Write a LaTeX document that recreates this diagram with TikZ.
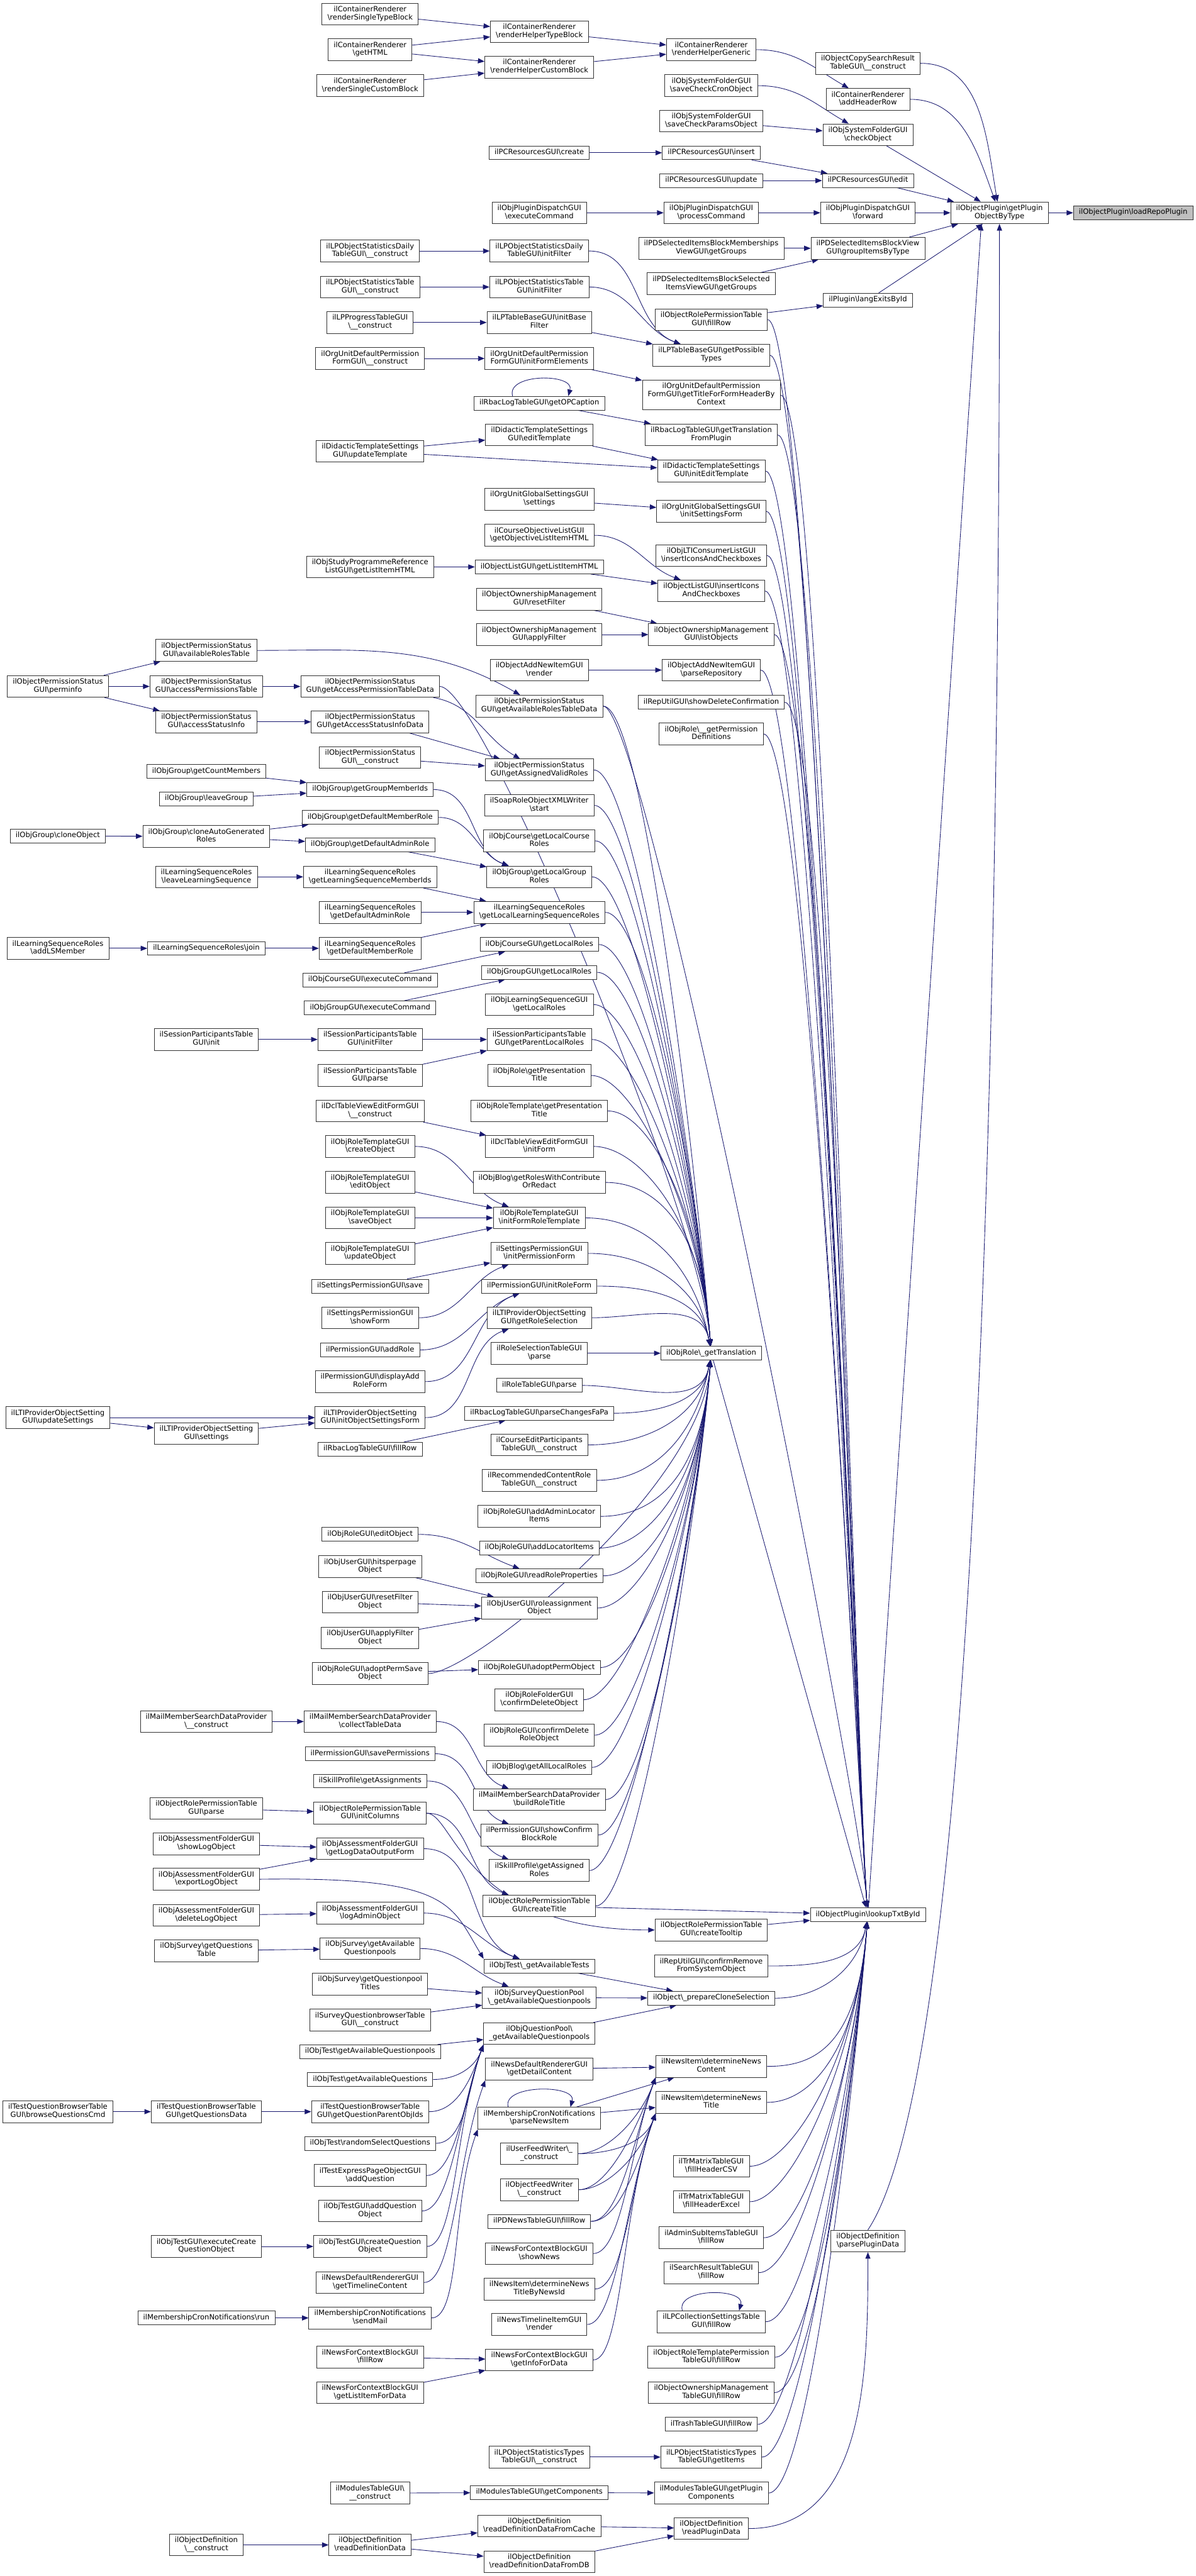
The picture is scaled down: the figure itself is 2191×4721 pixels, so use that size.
\documentclass[tikz,border=0pt]{standalone}
\usepackage{fontspec}
\setmainfont{DejaVu Sans}
\usetikzlibrary{arrows.meta}
\definecolor{edgeblue}{HTML}{191970}
\newcommand{\bsl}{\textbackslash}
\pgfdeclarelayer{background}
\pgfsetlayers{background,main}
\tikzstyle{func} = [
    rectangle,
    draw=black!80,
    fill=white,
    line width=0.75pt,
    font=\fontsize{10}{11}\selectfont,
    align=center,
    inner xsep=7.5pt,
    inner ysep=4pt,
    execute at begin node=\strut,
    execute at end node=\strut
]
\tikzstyle{focusfunc} = [func, fill=black!25]
\tikzstyle{arrow} = [draw=edgeblue, line width=0.75pt, -{Triangle[length=9pt,width=7pt]}]
\tikzstyle{fanabove} = [to path={.. controls +(80,0) and +(-20,-250) .. (\tikztotarget)}]
\tikzstyle{fanbelow} = [to path={.. controls +(80,0) and +(-20,250) .. (\tikztotarget)}]
\tikzstyle{nearabove} = [out=0, in=100]
\tikzstyle{nearbelow} = [out=0, in=-100]
\tikzstyle{belowleft} = [out=0, in=250, out max distance=40pt]

\begin{document}
\begin{tikzpicture}[x=0.75pt, y=-0.75pt]

\useasboundingbox (0,0) rectangle (2191,4721);

\node (perminfo) [func] at (106,1258) {ilObjectPermissionStatus\\GUI\bsl perminfo};
\node (cloneobj) [func] at (106,1532) {ilObjGroup\bsl cloneObject};
\node (addlsmember) [func] at (106,1738) {ilLearningSequenceRoles\\\bsl addLSMember};
\node (updsettings) [func] at (106,2598) {ilLTIProviderObjectSetting\\GUI\bsl updateSettings};
\node (browseqcmd) [func] at (106,3870) {ilTestQuestionBrowserTable\\GUI\bsl browseQuestionsCmd};

\node (availtable) [func] at (378,1192) {ilObjectPermissionStatus\\GUI\bsl availableRolesTable};
\node (accesstable) [func] at (378,1258) {ilObjectPermissionStatus\\GUI\bsl accessPermissionsTable};
\node (accessinfo) [func] at (378,1323) {ilObjectPermissionStatus\\GUI\bsl accessStatusInfo};
\node (countmembers) [func] at (378,1414) {ilObjGroup\bsl getCountMembers};
\node (leavegroup) [func] at (378,1464) {ilObjGroup\bsl leaveGroup};
\node (cloneautoroles) [func] at (378,1533) {ilObjGroup\bsl cloneAutoGenerated\\Roles};
\node (leavels) [func] at (378,1607) {ilLearningSequenceRoles\\\bsl leaveLearningSequence};
\node (lsjoin) [func] at (378,1738) {ilLearningSequenceRoles\bsl join};
\node (sptinit) [func] at (378,1905) {ilSessionParticipantsTable\\GUI\bsl init};
\node (ltisettings) [func] at (378,2627) {ilLTIProviderObjectSetting\\GUI\bsl settings};
\node (mailconstruct) [func] at (378,3155) {ilMailMemberSearchDataProvider\\\bsl\_\_construct};
\node (orptparse) [func] at (378,3314) {ilObjectRolePermissionTable\\GUI\bsl parse};
\node (showlog) [func] at (378,3379) {ilObjAssessmentFolderGUI\\\bsl showLogObject};
\node (exportlog) [func] at (378,3444) {ilObjAssessmentFolderGUI\\\bsl exportLogObject};
\node (deletelog) [func] at (378,3510) {ilObjAssessmentFolderGUI\\\bsl deleteLogObject};
\node (surveyqtable) [func] at (378,3575) {ilObjSurvey\bsl getQuestions\\Table};
\node (getqdata) [func] at (378,3870) {ilTestQuestionBrowserTable\\GUI\bsl getQuestionsData};
\node (execcreateq) [func] at (378,4117) {ilObjTestGUI\bsl executeCreate\\QuestionObject};
\node (cronrun) [func] at (378,4248) {ilMembershipCronNotifications\bsl run};
\node (defconstruct) [func] at (378,4664) {ilObjectDefinition\\\bsl\_\_construct};

\node (singletype) [func] at (678,26) {ilContainerRenderer\\\bsl renderSingleTypeBlock};
\node (gethtml) [func] at (678,91) {ilContainerRenderer\\\bsl getHTML};
\node (singlecustom) [func] at (678,157) {ilContainerRenderer\\\bsl renderSingleCustomBlock};
\node (dailyconstruct) [func] at (678,460) {ilLPObjectStatisticsDaily\\TableGUI\bsl\_\_construct};
\node (statsconstruct) [func] at (678,526) {ilLPObjectStatisticsTable\\GUI\bsl\_\_construct};
\node (progressconstruct) [func] at (678,591) {ilLPProgressTableGUI\\\bsl\_\_construct};
\node (oudpconstruct) [func] at (678,657) {ilOrgUnitDefaultPermission\\FormGUI\bsl\_\_construct};
\node (updtemplate) [func] at (678,827) {ilDidacticTemplateSettings\\GUI\bsl updateTemplate};
\node (sprlistitem) [func] at (678,1039) {ilObjStudyProgrammeReference\\ListGUI\bsl getListItemHTML};
\node (accesstabledata) [func] at (678,1258) {ilObjectPermissionStatus\\GUI\bsl getAccessPermissionTableData};
\node (accessinfodata) [func] at (678,1323) {ilObjectPermissionStatus\\GUI\bsl getAccessStatusInfoData};
\node (permconstruct) [func] at (678,1388) {ilObjectPermissionStatus\\GUI\bsl\_\_construct};
\node (groupmemberids) [func] at (678,1447) {ilObjGroup\bsl getGroupMemberIds};
\node (grpdefmember) [func] at (678,1498) {ilObjGroup\bsl getDefaultMemberRole};
\node (grpdefadmin) [func] at (678,1548) {ilObjGroup\bsl getDefaultAdminRole};
\node (lsmemberids) [func] at (678,1607) {ilLearningSequenceRoles\\\bsl getLearningSequenceMemberIds};
\node (lsdefadmin) [func] at (678,1672) {ilLearningSequenceRoles\\\bsl getDefaultAdminRole};
\node (lsdefmember) [func] at (678,1738) {ilLearningSequenceRoles\\\bsl getDefaultMemberRole};
\node (crsexec) [func] at (678,1796) {ilObjCourseGUI\bsl executeCommand};
\node (grpexec) [func] at (678,1847) {ilObjGroupGUI\bsl executeCommand};
\node (sptinitfilter) [func] at (678,1905) {ilSessionParticipantsTable\\GUI\bsl initFilter};
\node (sptparse) [func] at (678,1971) {ilSessionParticipantsTable\\GUI\bsl parse};
\node (dclconstruct) [func] at (678,2036) {ilDclTableViewEditFormGUI\\\bsl\_\_construct};
\node (rtcreate) [func] at (678,2101) {ilObjRoleTemplateGUI\\\bsl createObject};
\node (rtedit) [func] at (678,2167) {ilObjRoleTemplateGUI\\\bsl editObject};
\node (rtsave) [func] at (678,2232) {ilObjRoleTemplateGUI\\\bsl saveObject};
\node (rtupdate) [func] at (678,2297) {ilObjRoleTemplateGUI\\\bsl updateObject};
\node (spsave) [func] at (678,2357) {ilSettingsPermissionGUI\bsl save};
\node (spshowform) [func] at (678,2415) {ilSettingsPermissionGUI\\\bsl showForm};
\node (permaddrole) [func] at (678,2474) {ilPermissionGUI\bsl addRole};
\node (permdisplayadd) [func] at (678,2532) {ilPermissionGUI\bsl displayAdd\\RoleForm};
\node (ltiinitform) [func] at (678,2598) {ilLTIProviderObjectSetting\\GUI\bsl initObjectSettingsForm};
\node (rbacfillrow) [func] at (678,2656) {ilRbacLogTableGUI\bsl fillRow};
\node (roleedit) [func] at (678,2812) {ilObjRoleGUI\bsl editObject};
\node (userhits) [func] at (678,2871) {ilObjUserGUI\bsl hitsperpage\\Object};
\node (userreset) [func] at (678,2936) {ilObjUserGUI\bsl resetFilter\\Object};
\node (userapply) [func] at (678,3002) {ilObjUserGUI\bsl applyFilter\\Object};
\node (adoptsave) [func] at (678,3067) {ilObjRoleGUI\bsl adoptPermSave\\Object};
\node (mailcollect) [func] at (678,3155) {ilMailMemberSearchDataProvider\\\bsl collectTableData};
\node (permsave) [func] at (678,3214) {ilPermissionGUI\bsl savePermissions};
\node (skillassign) [func] at (678,3264) {ilSkillProfile\bsl getAssignments};
\node (orptinitcols) [func] at (678,3323) {ilObjectRolePermissionTable\\GUI\bsl initColumns};
\node (logoutputform) [func] at (678,3388) {ilObjAssessmentFolderGUI\\\bsl getLogDataOutputForm};
\node (logadmin) [func] at (678,3506) {ilObjAssessmentFolderGUI\\\bsl logAdminObject};
\node (surveyavailqp) [func] at (678,3571) {ilObjSurvey\bsl getAvailable\\Questionpools};
\node (surveyqptitles) [func] at (678,3636) {ilObjSurvey\bsl getQuestionpool\\Titles};
\node (sqbconstruct) [func] at (678,3702) {ilSurveyQuestionbrowserTable\\GUI\bsl\_\_construct};
\node (testavailqp) [func] at (678,3760) {ilObjTest\bsl getAvailableQuestionpools};
\node (testavailq) [func] at (678,3811) {ilObjTest\bsl getAvailableQuestions};
\node (parentobjids) [func] at (678,3870) {ilTestQuestionBrowserTable\\GUI\bsl getQuestionParentObjIds};
\node (randomselect) [func] at (678,3928) {ilObjTest\bsl randomSelectQuestions};
\node (expressaddq) [func] at (678,3987) {ilTestExpressPageObjectGUI\\\bsl addQuestion};
\node (testaddq) [func] at (678,4052) {ilObjTestGUI\bsl addQuestion\\Object};
\node (testcreateq) [func] at (678,4117) {ilObjTestGUI\bsl createQuestion\\Object};
\node (timelinecontent) [func] at (678,4183) {ilNewsDefaultRendererGUI\\\bsl getTimelineContent};
\node (cronsendmail) [func] at (678,4248) {ilMembershipCronNotifications\\\bsl sendMail};
\node (nfcbfillrow) [func] at (678,4320) {ilNewsForContextBlockGUI\\\bsl fillRow};
\node (nfcblistitem) [func] at (678,4385) {ilNewsForContextBlockGUI\\\bsl getListItemForData};
\node (modconstruct) [func] at (678,4569) {ilModulesTableGUI\bsl\\\_\_construct};
\node (readdefdata) [func] at (678,4664) {ilObjectDefinition\\\bsl readDefinitionData};

\node (helpertype) [func] at (988,58) {ilContainerRenderer\\\bsl renderHelperTypeBlock};
\node (helpercustom) [func] at (988,123) {ilContainerRenderer\\\bsl renderHelperCustomBlock};
\node (pccreate) [func] at (988,280) {ilPCResourcesGUI\bsl create};
\node (dispexec) [func] at (988,390) {ilObjPluginDispatchGUI\\\bsl executeCommand};
\node (dailyfilter) [func] at (988,460) {ilLPObjectStatisticsDaily\\TableGUI\bsl initFilter};
\node (statsfilter) [func] at (988,526) {ilLPObjectStatisticsTable\\GUI\bsl initFilter};
\node (basefilter) [func] at (988,591) {ilLPTableBaseGUI\bsl initBase\\Filter};
\node (oudpinitform) [func] at (988,657) {ilOrgUnitDefaultPermission\\FormGUI\bsl initFormElements};
\node (opcaption) [func] at (988,739) {ilRbacLogTableGUI\bsl getOPCaption};
\node (edittemplate) [func] at (988,797) {ilDidacticTemplateSettings\\GUI\bsl editTemplate};
\node (ougsettings) [func] at (988,915) {ilOrgUnitGlobalSettingsGUI\\\bsl settings};
\node (objectivelist) [func] at (988,981) {ilCourseObjectiveListGUI\\\bsl getObjectiveListItemHTML};
\node (listitemhtml) [func] at (988,1039) {ilObjectListGUI\bsl getListItemHTML};
\node (ownreset) [func] at (988,1098) {ilObjectOwnershipManagement\\GUI\bsl resetFilter};
\node (ownapply) [func] at (988,1163) {ilObjectOwnershipManagement\\GUI\bsl applyFilter};
\node (addnewrender) [func] at (988,1228) {ilObjectAddNewItemGUI\\\bsl render};
\node (availrolesdata) [func] at (988,1294) {ilObjectPermissionStatus\\GUI\bsl getAvailableRolesTableData};
\node (assignedvalid) [func] at (988,1411) {ilObjectPermissionStatus\\GUI\bsl getAssignedValidRoles};
\node (soapstart) [func] at (988,1476) {ilSoapRoleObjectXMLWriter\\\bsl start};
\node (crslocalroles) [func] at (988,1541) {ilObjCourse\bsl getLocalCourse\\Roles};
\node (grplocalroles) [func] at (988,1607) {ilObjGroup\bsl getLocalGroup\\Roles};
\node (lslocalroles) [func] at (988,1672) {ilLearningSequenceRoles\\\bsl getLocalLearningSequenceRoles};
\node (crsguilocal) [func] at (988,1731) {ilObjCourseGUI\bsl getLocalRoles};
\node (grpguilocal) [func] at (988,1782) {ilObjGroupGUI\bsl getLocalRoles};
\node (lsguilocal) [func] at (988,1841) {ilObjLearningSequenceGUI\\\bsl getLocalRoles};
\node (sptparentroles) [func] at (988,1905) {ilSessionParticipantsTable\\GUI\bsl getParentLocalRoles};
\node (rolepres) [func] at (988,1971) {ilObjRole\bsl getPresentation\\Title};
\node (rtplpres) [func] at (988,2036) {ilObjRoleTemplate\bsl getPresentation\\Title};
\node (dclinitform) [func] at (988,2101) {ilDclTableViewEditFormGUI\\\bsl initForm};
\node (blogcontrib) [func] at (988,2167) {ilObjBlog\bsl getRolesWithContribute\\OrRedact};
\node (rtinitform) [func] at (988,2232) {ilObjRoleTemplateGUI\\\bsl initFormRoleTemplate};
\node (spinitform) [func] at (988,2297) {ilSettingsPermissionGUI\\\bsl initPermissionForm};
\node (perminitrole) [func] at (988,2357) {ilPermissionGUI\bsl initRoleForm};
\node (ltiroleselect) [func] at (988,2415) {ilLTIProviderObjectSetting\\GUI\bsl getRoleSelection};
\node (rolesselparse) [func] at (988,2480) {ilRoleSelectionTableGUI\\\bsl parse};
\node (roletableparse) [func] at (988,2539) {ilRoleTableGUI\bsl parse};
\node (rbacfapa) [func] at (988,2590) {ilRbacLogTableGUI\bsl parseChangesFaPa};
\node (crseditpart) [func] at (988,2648) {ilCourseEditParticipants\\TableGUI\bsl\_\_construct};
\node (recomconstruct) [func] at (988,2713) {ilRecommendedContentRole\\TableGUI\bsl\_\_construct};
\node (roleadminloc) [func] at (988,2779) {ilObjRoleGUI\bsl addAdminLocator\\Items};
\node (rolelocator) [func] at (988,2837) {ilObjRoleGUI\bsl addLocatorItems};
\node (rolereadprops) [func] at (988,2888) {ilObjRoleGUI\bsl readRoleProperties};
\node (userroleassign) [func] at (988,2947) {ilObjUserGUI\bsl roleassignment\\Object};
\node (roleadoptperm) [func] at (988,3056) {ilObjRoleGUI\bsl adoptPermObject};
\node (rfconfirmdel) [func] at (988,3115) {ilObjRoleFolderGUI\\\bsl confirmDeleteObject};
\node (roleconfirmdel) [func] at (988,3180) {ilObjRoleGUI\bsl confirmDelete\\RoleObject};
\node (blogalllocal) [func] at (988,3239) {ilObjBlog\bsl getAllLocalRoles};
\node (mailroletitle) [func] at (988,3298) {ilMailMemberSearchDataProvider\\\bsl buildRoleTitle};
\node (permblockrole) [func] at (988,3363) {ilPermissionGUI\bsl showConfirm\\BlockRole};
\node (skillassigned) [func] at (988,3428) {ilSkillProfile\bsl getAssigned\\Roles};
\node (orptcreatetitle) [func] at (988,3493) {ilObjectRolePermissionTable\\GUI\bsl createTitle};
\node (testavailtests) [func] at (988,3603) {ilObjTest\bsl\_getAvailableTests};
\node (sqpavailqp) [func] at (988,3661) {ilObjSurveyQuestionPool\\\bsl\_getAvailableQuestionpools};
\node (qpavailqp) [func] at (988,3727) {ilObjQuestionPool\bsl\\\_getAvailableQuestionpools};
\node (newsdetail) [func] at (988,3792) {ilNewsDefaultRendererGUI\\\bsl getDetailContent};
\node (cronparse) [func] at (988,3882) {ilMembershipCronNotifications\\\bsl parseNewsItem};
\node (userfeed) [func] at (988,3947) {ilUserFeedWriter\bsl\_\\\_construct};
\node (objfeed) [func] at (988,4013) {ilObjectFeedWriter\\\bsl\_\_construct};
\node (pdnewsfill) [func] at (988,4071) {ilPDNewsTableGUI\bsl fillRow};
\node (nfcbshow) [func] at (988,4130) {ilNewsForContextBlockGUI\\\bsl showNews};
\node (titlebyid) [func] at (988,4195) {ilNewsItem\bsl determineNews\\TitleByNewsId};
\node (timelinerender) [func] at (988,4260) {ilNewsTimelineItemGUI\\\bsl render};
\node (nfcbinfo) [func] at (988,4325) {ilNewsForContextBlockGUI\\\bsl getInfoForData};
\node (statstypesconstruct) [func] at (988,4503) {ilLPObjectStatisticsTypes\\TableGUI\bsl\_\_construct};
\node (modcomponents) [func] at (988,4568) {ilModulesTableGUI\bsl getComponents};
\node (readdefcache) [func] at (988,4629) {ilObjectDefinition\\\bsl readDefinitionDataFromCache};
\node (readdefdb) [func] at (988,4695) {ilObjectDefinition\\\bsl readDefinitionDataFromDB};

\node (helpergeneric) [func] at (1303,91) {ilContainerRenderer\\\bsl renderHelperGeneric};
\node (savecron) [func] at (1303,157) {ilObjSystemFolderGUI\\\bsl saveCheckCronObject};
\node (saveparams) [func] at (1303,222) {ilObjSystemFolderGUI\\\bsl saveCheckParamsObject};
\node (pcinsert) [func] at (1303,280) {ilPCResourcesGUI\bsl insert};
\node (pcupdate) [func] at (1303,331) {ilPCResourcesGUI\bsl update};
\node (dispprocess) [func] at (1303,390) {ilObjPluginDispatchGUI\\\bsl processCommand};
\node (membgroups) [func] at (1303,455) {ilPDSelectedItemsBlockMemberships\\ViewGUI\bsl getGroups};
\node (selgroups) [func] at (1303,520) {ilPDSelectedItemsBlockSelected\\ItemsViewGUI\bsl getGroups};
\node (orptfillrow) [func] at (1303,586) {ilObjectRolePermissionTable\\GUI\bsl fillRow};
\node (possibletypes) [func] at (1303,651) {ilLPTableBaseGUI\bsl getPossible\\Types};
\node (ouformtitle) [func] at (1303,724) {ilOrgUnitDefaultPermission\\FormGUI\bsl getTitleForFormHeaderBy\\Context};
\node (rbactransplugin) [func] at (1303,797) {ilRbacLogTableGUI\bsl getTranslation\\FromPlugin};
\node (initedittemplate) [func] at (1303,863) {ilDidacticTemplateSettings\\GUI\bsl initEditTemplate};
\node (ouginitform) [func] at (1303,937) {ilOrgUnitGlobalSettingsGUI\\\bsl initSettingsForm};
\node (lticonsicons) [func] at (1303,1018) {ilObjLTIConsumerListGUI\\\bsl insertIconsAndCheckboxes};
\node (listicons) [func] at (1303,1083) {ilObjectListGUI\bsl insertIcons\\AndCheckboxes};
\node (ownlist) [func] at (1303,1163) {ilObjectOwnershipManagement\\GUI\bsl listObjects};
\node (addnewparse) [func] at (1303,1228) {ilObjectAddNewItemGUI\\\bsl parseRepository};
\node (repdelconfirm) [func] at (1303,1287) {ilRepUtilGUI\bsl showDeleteConfirmation};
\node (permdefs) [func] at (1303,1345) {ilObjRole\bsl\_\_getPermission\\Definitions};
\node (gettrans) [func] at (1303,2480) {ilObjRole\bsl\_getTranslation};
\node (orpttooltip) [func] at (1303,3537) {ilObjectRolePermissionTable\\GUI\bsl createTooltip};
\node (repremove) [func] at (1303,3603) {ilRepUtilGUI\bsl confirmRemove\\FromSystemObject};
\node (preparesel) [func] at (1303,3662) {ilObject\bsl\_prepareCloneSelection};
\node (newscontent) [func] at (1303,3787) {ilNewsItem\bsl determineNews\\Content};
\node (newstitle) [func] at (1303,3853) {ilNewsItem\bsl determineNews\\Title};
\node (csvheader) [func] at (1303,3970) {ilTrMatrixTableGUI\\\bsl fillHeaderCSV};
\node (excelheader) [func] at (1303,4035) {ilTrMatrixTableGUI\\\bsl fillHeaderExcel};
\node (adminsubfill) [func] at (1303,4101) {ilAdminSubItemsTableGUI\\\bsl fillRow};
\node (searchfill) [func] at (1303,4165) {ilSearchResultTableGUI\\\bsl fillRow};
\node (lpcollfill) [func] at (1303,4255) {ilLPCollectionSettingsTable\\GUI\bsl fillRow};
\node (rtplpermfill) [func] at (1303,4320) {ilObjectRoleTemplatePermission\\TableGUI\bsl fillRow};
\node (ownmgmtfill) [func] at (1303,4385) {ilObjectOwnershipManagement\\TableGUI\bsl fillRow};
\node (trashfill) [func] at (1303,4443) {ilTrashTableGUI\bsl fillRow};
\node (statstypesitems) [func] at (1303,4503) {ilLPObjectStatisticsTypes\\TableGUI\bsl getItems};
\node (modplugincomp) [func] at (1303,4569) {ilModulesTableGUI\bsl getPlugin\\Components};
\node (readplugindata) [func] at (1303,4634) {ilObjectDefinition\\\bsl readPluginData};

\node (copysearch) [func] at (1590,116) {ilObjectCopySearchResult\\TableGUI\bsl\_\_construct};
\node (addheaderrow) [func] at (1590,182) {ilContainerRenderer\\\bsl addHeaderRow};
\node (checkobject) [func] at (1590,247) {ilObjSystemFolderGUI\\\bsl checkObject};
\node (pcedit) [func] at (1590,331) {ilPCResourcesGUI\bsl edit};
\node (dispforward) [func] at (1590,390) {ilObjPluginDispatchGUI\\\bsl forward};
\node (groupbytype) [func] at (1590,455) {ilPDSelectedItemsBlockView\\GUI\bsl groupItemsByType};
\node (langexists) [func] at (1590,550) {ilPlugin\bsl langExitsById};
\node (lookuptxt) [func] at (1590,3509) {ilObjectPlugin\bsl lookupTxtById};
\node (parseplugindata) [func] at (1590,4107) {ilObjectDefinition\\\bsl parsePluginData};

\node (objbytype) [func] at (1831,390) {ilObjectPlugin\bsl getPlugin\\ObjectByType};
\node (loadrepo) [focusfunc] at (2076,390) {ilObjectPlugin\bsl loadRepoPlugin};

\begin{pgfonlayer}{background}
\fill [white] (0,0) rectangle (2191,4721);

\draw [arrow] (singletype) -- (helpertype);
\draw [arrow] (gethtml) -- (helpertype);
\draw [arrow] (gethtml) -- (helpercustom);
\draw [arrow] (singlecustom) -- (helpercustom);
\draw [arrow] (helpertype) -- (helpergeneric);
\draw [arrow] (helpercustom) -- (helpergeneric);
\draw [arrow] (helpergeneric) to [out=0, in=150] (addheaderrow);
\draw [arrow] (savecron) to [out=0, in=150] (checkobject);
\draw [arrow] (saveparams) -- (checkobject);
\draw [arrow] (pccreate) -- (pcinsert);
\draw [arrow] (pcinsert) -- (pcedit);
\draw [arrow] (pcupdate) -- (pcedit);
\draw [arrow] (dispexec) -- (dispprocess);
\draw [arrow] (dispprocess) -- (dispforward);
\draw [arrow] (membgroups) -- (groupbytype);
\draw [arrow] (selgroups) -- (groupbytype);
\draw [arrow] (orptfillrow) -- (langexists);
\draw [arrow] (copysearch) to [out=0, in=100] (objbytype);
\draw [arrow] (addheaderrow) to [out=0, in=110] (objbytype);
\draw [arrow] (checkobject) -- (objbytype);
\draw [arrow] (pcedit) -- (objbytype);
\draw [arrow] (dispforward) -- (objbytype);
\draw [arrow] (groupbytype) -- (objbytype);
\draw [arrow] (langexists) -- (objbytype);
\draw [arrow] (lookuptxt) -- ([xshift=-25pt]objbytype.south);
\draw [arrow] (parseplugindata.north) .. controls +(200,-300) and +(0,1500) .. (objbytype.south);
\draw [arrow] (objbytype) -- (loadrepo);

\draw [arrow] (dailyconstruct) -- (dailyfilter);
\draw [arrow] (statsconstruct) -- (statsfilter);
\draw [arrow] (progressconstruct) -- (basefilter);
\draw [arrow] (oudpconstruct) -- (oudpinitform);
\draw [arrow] (dailyfilter) to [out=0, in=160] (possibletypes);
\draw [arrow] (statsfilter) to [out=0, in=160] (possibletypes);
\draw [arrow] (basefilter) -- (possibletypes);
\draw [arrow] (oudpinitform) -- (ouformtitle);
\draw [arrow] (opcaption) -- (rbactransplugin);
\draw [arrow] (opcaption.north) ++(-49,0) .. controls +(-12,-42) and +(12,-42) .. ++(102,0);

\draw [arrow] (updtemplate) -- (edittemplate);
\draw [arrow] (updtemplate) -- (initedittemplate);
\draw [arrow] (edittemplate) -- (initedittemplate);
\draw [arrow] (ougsettings) -- (ouginitform);
\draw [arrow] (objectivelist) to [out=0, in=160] (listicons);
\draw [arrow] (sprlistitem) -- (listitemhtml);
\draw [arrow] (listitemhtml) -- (listicons);
\draw [arrow] (ownreset) -- (ownlist);
\draw [arrow] (ownapply) -- (ownlist);
\draw [arrow] (addnewrender) -- (addnewparse);

\draw [arrow] (perminfo) -- (availtable);
\draw [arrow] (perminfo) -- (accesstable);
\draw [arrow] (perminfo) -- (accessinfo);
\draw [arrow] (accesstable) -- (accesstabledata);
\draw [arrow] (accessinfo) -- (accessinfodata);
\draw [arrow] (availtable) to [out=0, in=150] (availrolesdata);
\draw [arrow] (accesstabledata) to [out=-10, in=150] (assignedvalid);
\draw [arrow] (accessinfodata) -- (assignedvalid);
\draw [arrow] (permconstruct) -- (assignedvalid);

\draw [arrow] (countmembers) -- (groupmemberids);
\draw [arrow] (leavegroup) -- (groupmemberids);
\draw [arrow] (groupmemberids) to [out=0, in=160] (grplocalroles);
\draw [arrow] (cloneobj) -- (cloneautoroles);
\draw [arrow] (cloneautoroles) -- (grpdefmember);
\draw [arrow] (cloneautoroles) -- (grpdefadmin);
\draw [arrow] (grpdefmember) to [out=0, in=160] (grplocalroles);
\draw [arrow] (grpdefadmin) -- (grplocalroles);

\draw [arrow] (leavels) -- (lsmemberids);
\draw [arrow] (lsmemberids) -- (lslocalroles);
\draw [arrow] (lsdefadmin) -- (lslocalroles);
\draw [arrow] (addlsmember) -- (lsjoin);
\draw [arrow] (lsjoin) -- (lsdefmember);
\draw [arrow] (lsdefmember) -- (lslocalroles);
\draw [arrow] (crsexec) -- (crsguilocal);
\draw [arrow] (grpexec) -- (grpguilocal);
\draw [arrow] (sptinit) -- (sptinitfilter);
\draw [arrow] (sptinitfilter) -- (sptparentroles);
\draw [arrow] (sptparse) -- (sptparentroles);
\draw [arrow] (dclconstruct) -- (dclinitform);
\draw [arrow] (rtcreate) to [out=0, in=160] (rtinitform);
\draw [arrow] (rtedit) -- (rtinitform);
\draw [arrow] (rtsave) -- (rtinitform);
\draw [arrow] (rtupdate) -- (rtinitform);
\draw [arrow] (spsave) -- (spinitform);
\draw [arrow] (spshowform) to [out=0, in=200] (spinitform);
\draw [arrow] (permaddrole) to [out=0, in=200] (perminitrole);
\draw [arrow] (permdisplayadd) to [out=0, in=200] (perminitrole);
\draw [arrow] (ltiinitform) to [out=0, in=200] (ltiroleselect);
\draw [arrow] (updsettings) -- (ltiinitform);
\draw [arrow] (updsettings) -- (ltisettings);
\draw [arrow] (ltisettings) -- (ltiinitform);
\draw [arrow] (rbacfillrow) -- (rbacfapa);
\draw [arrow] (roleedit) to [out=0, in=160] (rolereadprops);
\draw [arrow] (userhits) -- (userroleassign);
\draw [arrow] (userreset) -- (userroleassign);
\draw [arrow] (userapply) -- (userroleassign);
\draw [arrow] (adoptsave) -- (roleadoptperm);

\draw [arrow] (mailconstruct) -- (mailcollect);
\draw [arrow] (mailcollect) to [out=0, in=160] (mailroletitle);
\draw [arrow] (permsave) to [out=0, in=160] (permblockrole);
\draw [arrow] (skillassign) to [out=0, in=160] (skillassigned);
\draw [arrow] (orptparse) -- (orptinitcols);
\draw [arrow] (orptinitcols) to [out=0, in=160] (orptcreatetitle);
\draw [arrow] (orptinitcols.east) .. controls +(50,0) and +(-350,0) .. (orpttooltip.west);
\draw [arrow] (showlog) -- (logoutputform);
\draw [arrow] (exportlog) -- (logoutputform);
\draw [arrow] (exportlog.east) .. controls +(350,-5) and +(-60,-100) .. (testavailtests.north west);
\draw [arrow] (logoutputform) to [out=0, in=160] (testavailtests);
\draw [arrow] (deletelog) -- (logadmin);
\draw [arrow] (logadmin) to [out=0, in=160] (testavailtests);
\draw [arrow] (surveyqtable) -- (surveyavailqp);
\draw [arrow] (surveyavailqp) to [out=0, in=160] (sqpavailqp);
\draw [arrow] (surveyqptitles) -- (sqpavailqp);
\draw [arrow] (sqbconstruct) -- (sqpavailqp);

\draw [arrow] (testavailqp) -- (qpavailqp);
\draw [arrow] (testavailq) to [belowleft] (qpavailqp.south west);
\draw [arrow] (browseqcmd) -- (getqdata);
\draw [arrow] (getqdata) -- (parentobjids);
\draw [arrow] (parentobjids) to [belowleft] (qpavailqp.south west);
\draw [arrow] (randomselect) to [belowleft] (qpavailqp.south west);
\draw [arrow] (expressaddq) to [belowleft] (qpavailqp.south west);
\draw [arrow] (testaddq) to [belowleft] (qpavailqp.south west);
\draw [arrow] (execcreateq) -- (testcreateq);
\draw [arrow] (testcreateq) to [belowleft] (qpavailqp.south west);
\draw [arrow] (timelinecontent) to [belowleft] (newsdetail.south west);
\draw [arrow] (cronrun) -- (cronsendmail);
\draw [arrow] (cronsendmail) to [belowleft] (cronparse.south west);
\draw [arrow] (nfcbfillrow) -- (nfcbinfo);
\draw [arrow] (nfcblistitem) -- (nfcbinfo);
\draw [arrow] (statstypesconstruct) -- (statstypesitems);
\draw [arrow] (modconstruct) -- (modcomponents);
\draw [arrow] (modcomponents) -- (modplugincomp);
\draw [arrow] (defconstruct) -- (readdefdata);
\draw [arrow] (readdefdata) -- (readdefcache);
\draw [arrow] (readdefdata) -- (readdefdb);
\draw [arrow] (readdefcache) -- (readplugindata);
\draw [arrow] (readdefdb) -- (readplugindata);
\draw [arrow] (readplugindata) to [out=0, in=-90] (parseplugindata);

\draw [arrow] (testavailtests) -- (preparesel);
\draw [arrow] (sqpavailqp) -- (preparesel);
\draw [arrow] (qpavailqp) -- (preparesel);
\draw [arrow] (newsdetail) -- (newscontent);
\draw [arrow] (cronparse) -- (newscontent);
\draw [arrow] (cronparse) -- (newstitle);
\draw [arrow] (cronparse.north) ++(-57,0) .. controls +(-12,-42) and +(12,-42) .. ++(114,0);
\draw [arrow] (userfeed) to [belowleft] (newscontent.south west);
\draw [arrow] (userfeed) to [belowleft] (newstitle.south west);
\draw [arrow] (objfeed) to [belowleft] (newscontent.south west);
\draw [arrow] (objfeed) to [belowleft] (newstitle.south west);
\draw [arrow] (pdnewsfill) to [belowleft] (newscontent.south west);
\draw [arrow] (pdnewsfill) to [belowleft] (newstitle.south west);
\draw [arrow] (nfcbshow) to [belowleft] (newscontent.south west);
\draw [arrow] (titlebyid) to [belowleft] (newstitle.south west);
\draw [arrow] (timelinerender) to [belowleft] (newstitle.south west);
\draw [arrow] (nfcbinfo) to [belowleft] (newstitle.south west);

\draw [arrow] (gettrans) -- (lookuptxt);
\draw [arrow] (orpttooltip) -- (lookuptxt);
\draw [arrow] (orptcreatetitle) -- (lookuptxt);
\draw [arrow] (repremove) to [nearbelow] (lookuptxt);
\draw [arrow] (preparesel) to [nearbelow] (lookuptxt);
\draw [arrow] (newscontent.east) to [fanbelow] (lookuptxt);
\draw [arrow] (newstitle.east) to [fanbelow] (lookuptxt);
\draw [arrow] (csvheader.east) to [fanbelow] (lookuptxt);
\draw [arrow] (excelheader.east) to [fanbelow] (lookuptxt);
\draw [arrow] (adminsubfill.east) to [fanbelow] (lookuptxt);
\draw [arrow] (searchfill.east) to [fanbelow] (lookuptxt);
\draw [arrow] (lpcollfill.east) to [fanbelow] (lookuptxt);
\draw [arrow] (lpcollfill.north) ++(-53,0) .. controls +(-12,-42) and +(12,-42) .. ++(104,0);
\draw [arrow] (rtplpermfill.east) to [fanbelow] (lookuptxt);
\draw [arrow] (ownmgmtfill.east) to [fanbelow] (lookuptxt);
\draw [arrow] (trashfill.east) to [fanbelow] (lookuptxt);
\draw [arrow] (statstypesitems.east) to [fanbelow] (lookuptxt);
\draw [arrow] (modplugincomp.east) to [fanbelow] (lookuptxt);

\draw [arrow] (orptfillrow.east) to [fanabove] (lookuptxt);
\draw [arrow] (possibletypes.east) to [fanabove] (lookuptxt);
\draw [arrow] (ouformtitle.east) to [fanabove] (lookuptxt);
\draw [arrow] (rbactransplugin.east) to [fanabove] (lookuptxt);
\draw [arrow] (initedittemplate.east) to [fanabove] (lookuptxt);
\draw [arrow] (ouginitform.east) to [fanabove] (lookuptxt);
\draw [arrow] (lticonsicons.east) to [fanabove] (lookuptxt);
\draw [arrow] (listicons.east) to [fanabove] (lookuptxt);
\draw [arrow] (ownlist.east) to [fanabove] (lookuptxt);
\draw [arrow] (addnewparse.east) to [fanabove] (lookuptxt);
\draw [arrow] (repdelconfirm.east) to [fanabove] (lookuptxt);
\draw [arrow] (permdefs.east) to [fanabove] (lookuptxt);
\draw [arrow] (availrolesdata.east) to [fanabove] (lookuptxt);

\draw [arrow] (availrolesdata.east) to [fanabove] (gettrans);
\draw [arrow] (accesstabledata.east) to [fanabove] (gettrans);
\draw [arrow] (assignedvalid.east) to [fanabove] (gettrans);
\draw [arrow] (soapstart.east) to [fanabove] (gettrans);
\draw [arrow] (crslocalroles.east) to [fanabove] (gettrans);
\draw [arrow] (grplocalroles.east) to [fanabove] (gettrans);
\draw [arrow] (lslocalroles.east) to [fanabove] (gettrans);
\draw [arrow] (crsguilocal.east) to [fanabove] (gettrans);
\draw [arrow] (grpguilocal.east) to [fanabove] (gettrans);
\draw [arrow] (lsguilocal.east) to [fanabove] (gettrans);
\draw [arrow] (sptparentroles.east) to [fanabove] (gettrans);
\draw [arrow] (rolepres.east) to [fanabove] (gettrans);
\draw [arrow] (rtplpres.east) to [fanabove] (gettrans);
\draw [arrow] (dclinitform.east) to [fanabove] (gettrans);
\draw [arrow] (blogcontrib.east) to [fanabove] (gettrans);
\draw [arrow] (rtinitform) to [nearabove] (gettrans);
\draw [arrow] (spinitform) to [nearabove] (gettrans);
\draw [arrow] (perminitrole) to [nearabove] (gettrans);
\draw [arrow] (ltiroleselect) to [nearabove] (gettrans);
\draw [arrow] (rolesselparse) -- (gettrans);
\draw [arrow] (roletableparse) to [nearbelow] (gettrans);
\draw [arrow] (rbacfapa) to [nearbelow] (gettrans);
\draw [arrow] (crseditpart) to [nearbelow] (gettrans);
\draw [arrow] (recomconstruct) to [nearbelow] (gettrans);
\draw [arrow] (roleadminloc.east) to [fanbelow] (gettrans);
\draw [arrow] (rolelocator.east) to [fanbelow] (gettrans);
\draw [arrow] (rolereadprops.east) to [fanbelow] (gettrans);
\draw [arrow] (userroleassign.east) to [fanbelow] (gettrans);
\draw [arrow] (roleadoptperm.east) to [fanbelow] (gettrans);
\draw [arrow] (adoptsave.east) to [fanbelow] (gettrans);
\draw [arrow] (rfconfirmdel.east) to [fanbelow] (gettrans);
\draw [arrow] (roleconfirmdel.east) to [fanbelow] (gettrans);
\draw [arrow] (blogalllocal.east) to [fanbelow] (gettrans);
\draw [arrow] (mailroletitle.east) to [fanbelow] (gettrans);
\draw [arrow] (permblockrole.east) to [fanbelow] (gettrans);
\draw [arrow] (skillassigned.east) to [fanbelow] (gettrans);
\draw [arrow] (orptcreatetitle.east) to [fanbelow] (gettrans);
\end{pgfonlayer}

\end{tikzpicture}
\end{document}
